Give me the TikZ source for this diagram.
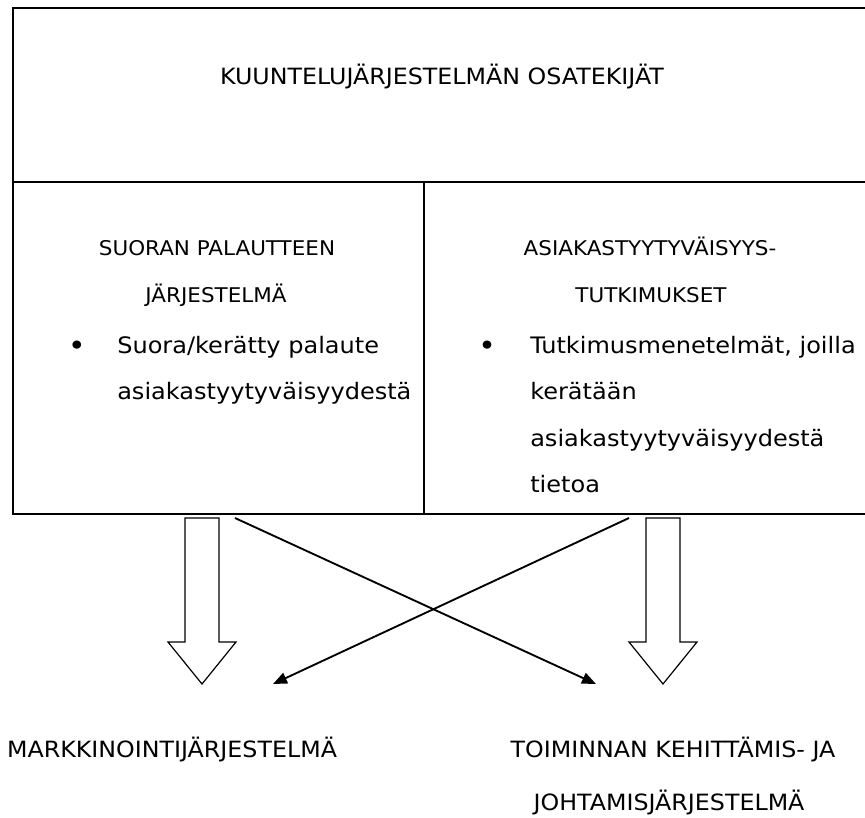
\documentclass[tikz,border=0pt]{standalone}
\usepackage{fontspec}
\setmainfont{DejaVu Sans}[FakeStretch=1.06]
\usepackage{tikz}
\usetikzlibrary{arrows.meta}

\begin{document}
\begin{tikzpicture} [
    x=0.75pt, y=-0.75pt,
    cell/.style={rectangle, draw, line width=1.5pt, inner sep=0pt, anchor=north west},
    title/.style={inner sep=0pt, anchor=base, font=\fontsize{16.8}{19}\selectfont},
    head/.style={inner sep=0pt, anchor=base, font=\fontsize{15.2}{17}\selectfont},
    item/.style={inner sep=0pt, anchor=base west, font=\fontsize{17}{19}\selectfont},
    dot/.style={inner sep=0pt, anchor=base, font=\fontsize{21}{23}\selectfont},
    cross/.style={line width=1.4pt, -{Triangle[length=10.5pt, width=8.5pt]}},
    hollow/.style={draw, line width=0.9pt, line join=miter}
]
\useasboundingbox (0,0) rectangle (865,818);

% Main boxes
\node[cell, minimum width=642pt, minimum height=130.5pt] (osat) at (12,7) {};
\node[cell, minimum width=308.25pt, minimum height=249pt] (suora) at (12,181) {};
\node[cell, minimum width=333.75pt, minimum height=249pt] (tutk) at (423,181) {};

\node[title] (otsikko) at (442,84) {KUUNTELUJÄRJESTELMÄN OSATEKIJÄT};

\node[head] (suora1) at (217,255) {SUORAN PALAUTTEEN};
\node[head] (suora2) at (216,302) {JÄRJESTELMÄ};
\node[dot] (suorab) at (77,355) {•};
\node[item] (suora3) at (117,353) {Suora/kerätty palaute};
\node[item] (suora4) at (117,399.5) {asiakastyytyväisyydestä};

\node[head] (tutk1) at (650,255) {ASIAKASTYYTYVÄISYYS-};
\node[head] (tutk2) at (651,302) {TUTKIMUKSET};
\node[dot] (tutkb) at (487,355) {•};
\node[item] (tutk3) at (530,353) {Tutkimusmenetelmät, joilla};
\node[item] (tutk4) at (530,399.5) {kerätään};
\node[item] (tutk5) at (530,446) {asiakastyytyväisyydestä};
\node[item] (tutk6) at (530,492.5) {tietoa};

% Targets
\node[title] (mark) at (172,757) {MARKKINOINTIJÄRJESTELMÄ};
\node[title] (toim1) at (673,757) {TOIMINNAN KEHITTÄMIS- JA};
\node[title] (toim2) at (669,810) {JOHTAMISJÄRJESTELMÄ};

% Connections
\coordinate (xa) at (235,518);
\coordinate (xb) at (596,684);
\coordinate (ya) at (629,518);
\coordinate (yb) at (273,684);
\draw[cross] (xa) -- (xb);
\draw[cross] (ya) -- (yb);

\coordinate (vasen) at (202,518);
\coordinate (oikea) at (663,518);
\draw[hollow] (vasen) ++(-17,0) -- ++(0,124) -- ++(-17,0) -- ++(34,42) -- ++(34,-42) -- ++(-17,0) -- ++(0,-124) -- cycle;
\draw[hollow] (oikea) ++(-17,0) -- ++(0,124) -- ++(-17,0) -- ++(34,42) -- ++(34,-42) -- ++(-17,0) -- ++(0,-124) -- cycle;

\end{tikzpicture}
\end{document}
